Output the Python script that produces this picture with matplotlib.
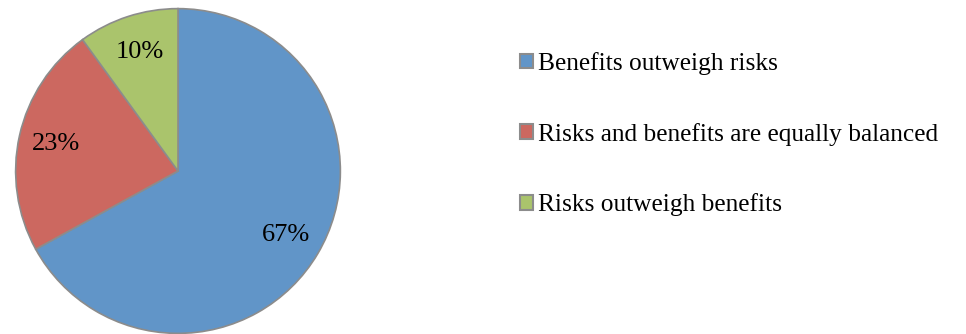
import matplotlib.pyplot as plt

plt.rcParams['font.family'] = ['Liberation Serif', 'DejaVu Serif']

labels = ["Benefits outweigh risks", "Risks and benefits are equally balanced", "Risks outweigh benefits"]
shares = [67, 23, 10]
colors = ["#6195c8", "#cc6860", "#aac46c"]

fig = plt.figure(figsize=(9.66, 3.34), dpi=100)
# pie axes: centre ~ (178, 171) px, radius ~164 px
ax = fig.add_axes([14 / 966, -1 / 334, 328 / 966, 328 / 334])

wedges, texts, autotexts = ax.pie(
    shares, colors=colors, startangle=90, counterclock=False,
    autopct=lambda p: "%d%%" % round(p), pctdistance=0.77,
    wedgeprops=dict(edgecolor="#8c8c8c", linewidth=1.2),
    textprops=dict(fontsize=19, color="black"))
ax.set_xlim(-1.01, 1.01)
ax.set_ylim(-1.01, 1.01)
ax.set_aspect("equal")
for w in wedges:
    w.set_clip_on(False)

leg = fig.legend(wedges, labels, loc="upper left", bbox_to_anchor=(497 / 966, 1 - 29 / 334),
                 frameon=False, fontsize=18.3, handlelength=0.5, handleheight=0.5,
                 handletextpad=0.2, labelspacing=1.88)
for h in leg.legend_handles:
    h.set_edgecolor("#8c8c8c")
    h.set_linewidth(1.5)

fig.savefig("out.png", dpi=100)
